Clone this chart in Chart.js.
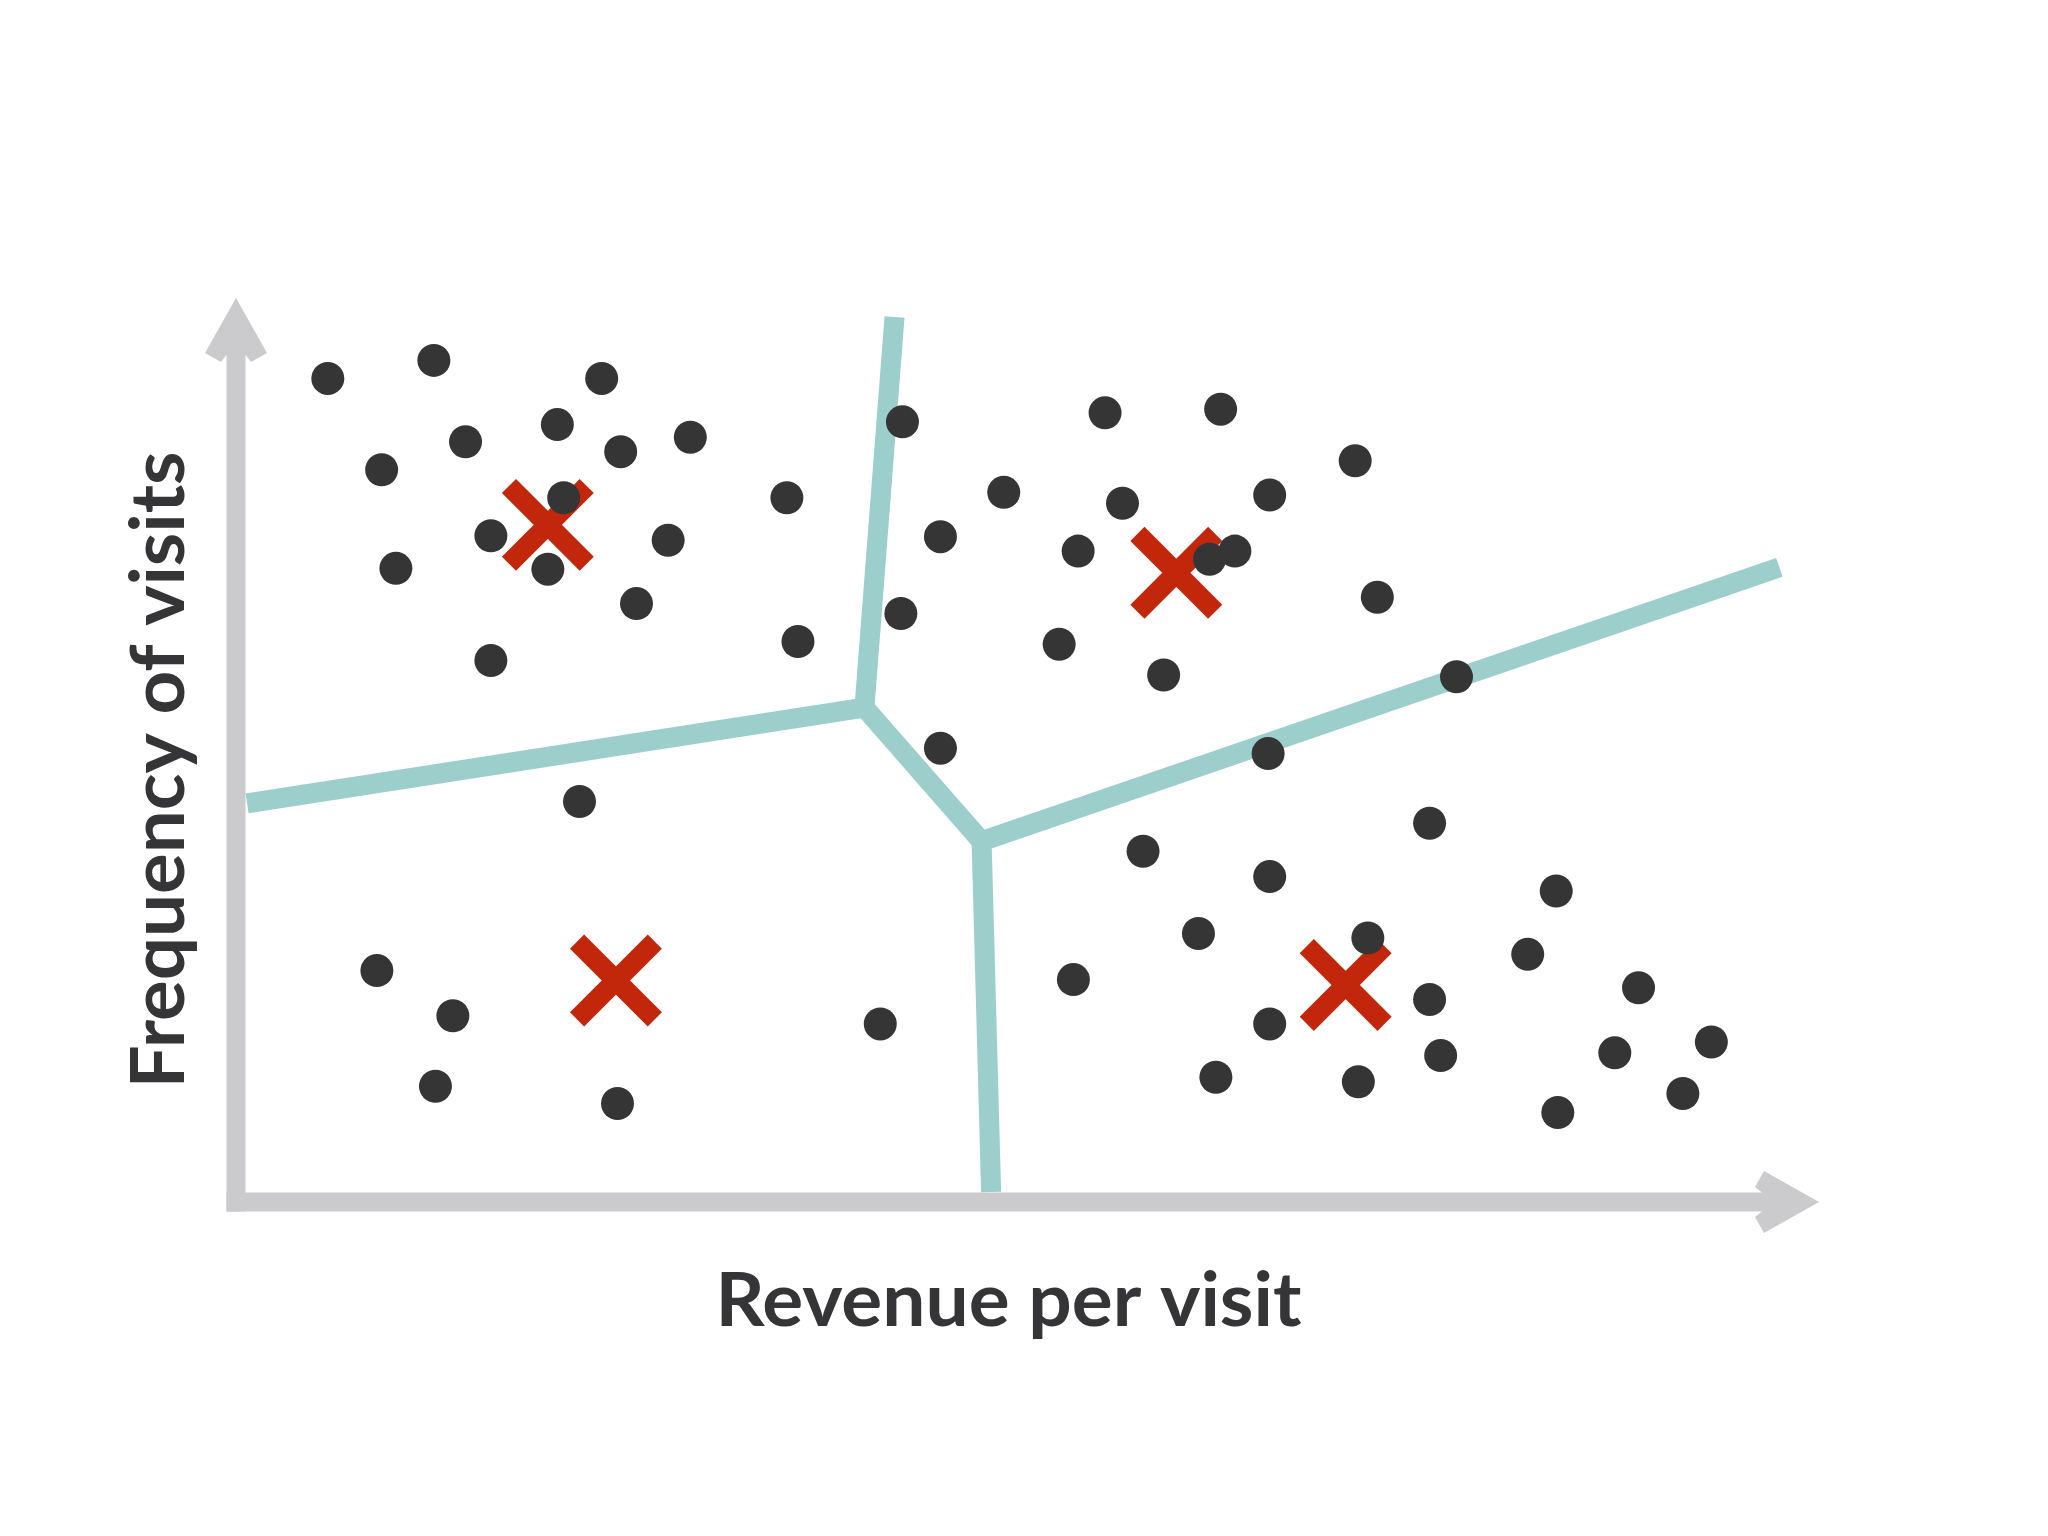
<!DOCTYPE html>
<html>
<head>
    <meta charset="utf-8">
    <title>Clusters: revenue per visit vs frequency of visits</title>
    <script src="https://cdn.jsdelivr.net/npm/chart.js@4.4.1/dist/chart.umd.min.js"></script>
    <style>
        html, body { margin: 0; padding: 0; background: #ffffff; }
    </style>
</head>
<body>
<canvas id="chart" width="2048" height="1536"></canvas>
<script>
    // both axes run 0..100 (no ticks shown), origin at the corner of the arrows
    const customerX = [
        5.8, 12.5, 23.1, 14.5, 20.3, 24.3, 28.7, 9.2, 34.8, 20.7, 16.1, 27.3, 10.1, 19.7, 25.3, 35.5, 16.1,
        42.1, 54.9, 62.2, 70.7, 48.5, 56.0, 65.3, 44.5, 53.2, 61.5, 63.1, 42.0, 72.1, 52.0, 58.6, 77.1, 44.5,
        21.7, 8.9, 13.7, 12.6, 24.1, 40.7,
        65.2, 75.4, 57.3, 65.3, 83.4, 60.8, 71.5, 52.9, 81.6, 88.6, 75.4, 65.3, 93.2, 76.1, 87.1, 61.9, 70.9, 91.4, 83.5
    ];
    const customerY = [
        91.1, 93.1, 91.1, 84.1, 86.0, 83.0, 84.6, 81.0, 77.9, 77.9, 73.7, 73.2, 70.1, 70.0, 66.2, 62.0, 59.9,
        86.3, 87.3, 87.7, 82.0, 78.5, 77.3, 78.2, 73.6, 72.0, 71.1, 72.0, 65.1, 66.9, 61.7, 58.3, 58.1, 50.2,
        44.3, 25.6, 20.6, 12.8, 10.9, 19.7,
        49.6, 41.9, 38.8, 36.0, 34.4, 29.7, 29.2, 24.6, 27.4, 23.7, 22.4, 19.7, 17.7, 16.2, 16.5, 13.8, 13.3, 12.0, 9.9
    ];

    const centroidX = [19.7, 59.4, 24.0, 70.1];
    const centroidY = [74.9, 69.6, 24.5, 24.0];

    // cluster boundaries, one polyline each
    const edgeX = [[0.7, 39.7, 41.6], [39.7, 47.1, 97.5], [47.1, 47.7]];
    const edgeY = [[44.1, 54.7, 97.9], [54.7, 39.9, 70.2], [39.9, 1.1]];

    const xTitle = 'Revenue per visit';
    const yTitle = 'Frequency of visits';

    const AXIS = '#cbcacc';
    const TEXT = '#353437';

    function arrow(ctx, x0, y0, x1, y1) {
        const len = Math.hypot(x1 - x0, y1 - y0);
        ctx.save();
        ctx.translate(x1, y1);
        ctx.rotate(Math.atan2(y1 - y0, x1 - x0));
        ctx.fillStyle = AXIS;
        ctx.fillRect(-len, -9.5, len - 52, 19);
        ctx.beginPath();
        ctx.moveTo(0, 0);
        ctx.lineTo(-55, -31);
        ctx.lineTo(-64, -15);
        ctx.lineTo(-57, -9.5);
        ctx.lineTo(-57, 9.5);
        ctx.lineTo(-64, 15);
        ctx.lineTo(-55, 31);
        ctx.closePath();
        ctx.fill();
        ctx.restore();
    }

    // draw text squeezed/stretched to a given width
    function fitText(ctx, text, width) {
        const w = ctx.measureText(text).width;
        ctx.save();
        ctx.scale(width / w, 1);
        ctx.fillText(text, 0, 0);
        ctx.restore();
    }

    const axesPlugin = {
        id: 'arrowAxes',
        beforeDatasetsDraw(chart) {
            const ctx = chart.ctx;
            const xs = chart.scales.x, ys = chart.scales.y;
            const ox = xs.getPixelForValue(0), oy = ys.getPixelForValue(0);
            arrow(ctx, ox, oy + 9.5, ox, ys.getPixelForValue(100));
            arrow(ctx, ox - 9.5, oy, xs.getPixelForValue(100), oy);
        },
        afterDraw(chart) {
            const ctx = chart.ctx;
            const xs = chart.scales.x, ys = chart.scales.y;
            ctx.save();
            ctx.fillStyle = TEXT;
            ctx.font = 'bold 74px Lato';
            ctx.textAlign = 'center';
            ctx.textBaseline = 'alphabetic';
            // a thin stroke to bring the weight closer to the original heavy face
            ctx.strokeStyle = TEXT;
            ctx.lineWidth = 1.5;

            ctx.save();
            ctx.translate(xs.getPixelForValue(48.8), ys.getPixelForValue(0) + 124);
            fitText(ctx, xTitle, 586);
            ctx.restore();

            ctx.save();
            ctx.translate(xs.getPixelForValue(0) - 52, ys.getPixelForValue(47.8));
            ctx.rotate(-Math.PI / 2);
            fitText(ctx, yTitle, 637);
            ctx.restore();

            ctx.restore();
        }
    };

    const edgeSets = edgeX.map((xs, k) => ({
        type: 'line',
        data: xs.map((x, i) => ({ x: x, y: edgeY[k][i] })),
        borderColor: '#9ccecc',
        borderWidth: 20,
        borderCapStyle: 'butt',
        borderJoinStyle: 'miter',
        pointRadius: 0,
        tension: 0,
        fill: false,
        clip: false
    }));

    new Chart(document.getElementById('chart'), {
        type: 'scatter',
        data: {
            datasets: [
                {
                    data: customerX.map((x, i) => ({ x: x, y: customerY[i] })),
                    backgroundColor: '#353535',
                    pointRadius: 16.5,
                    pointBorderWidth: 0,
                    pointHoverRadius: 16.5,
                    clip: false
                },
                {
                    data: centroidX.map((x, i) => ({ x: x, y: centroidY[i] })),
                    pointStyle: 'crossRot',
                    pointRadius: 55,
                    pointHoverRadius: 55,
                    borderColor: '#c2270b',
                    pointBorderWidth: 20,
                    pointHoverBorderWidth: 20,
                    clip: false
                },
                ...edgeSets
            ]
        },
        options: {
            responsive: false,
            animation: false,
            events: [],
            layout: { padding: { left: 236, right: 229, top: 298, bottom: 334 } },
            plugins: { legend: { display: false }, tooltip: { enabled: false } },
            scales: {
                x: { type: 'linear', min: 0, max: 100, display: false },
                y: { type: 'linear', min: 0, max: 100, display: false }
            }
        },
        plugins: [axesPlugin]
    });
</script>
</body>
</html>
